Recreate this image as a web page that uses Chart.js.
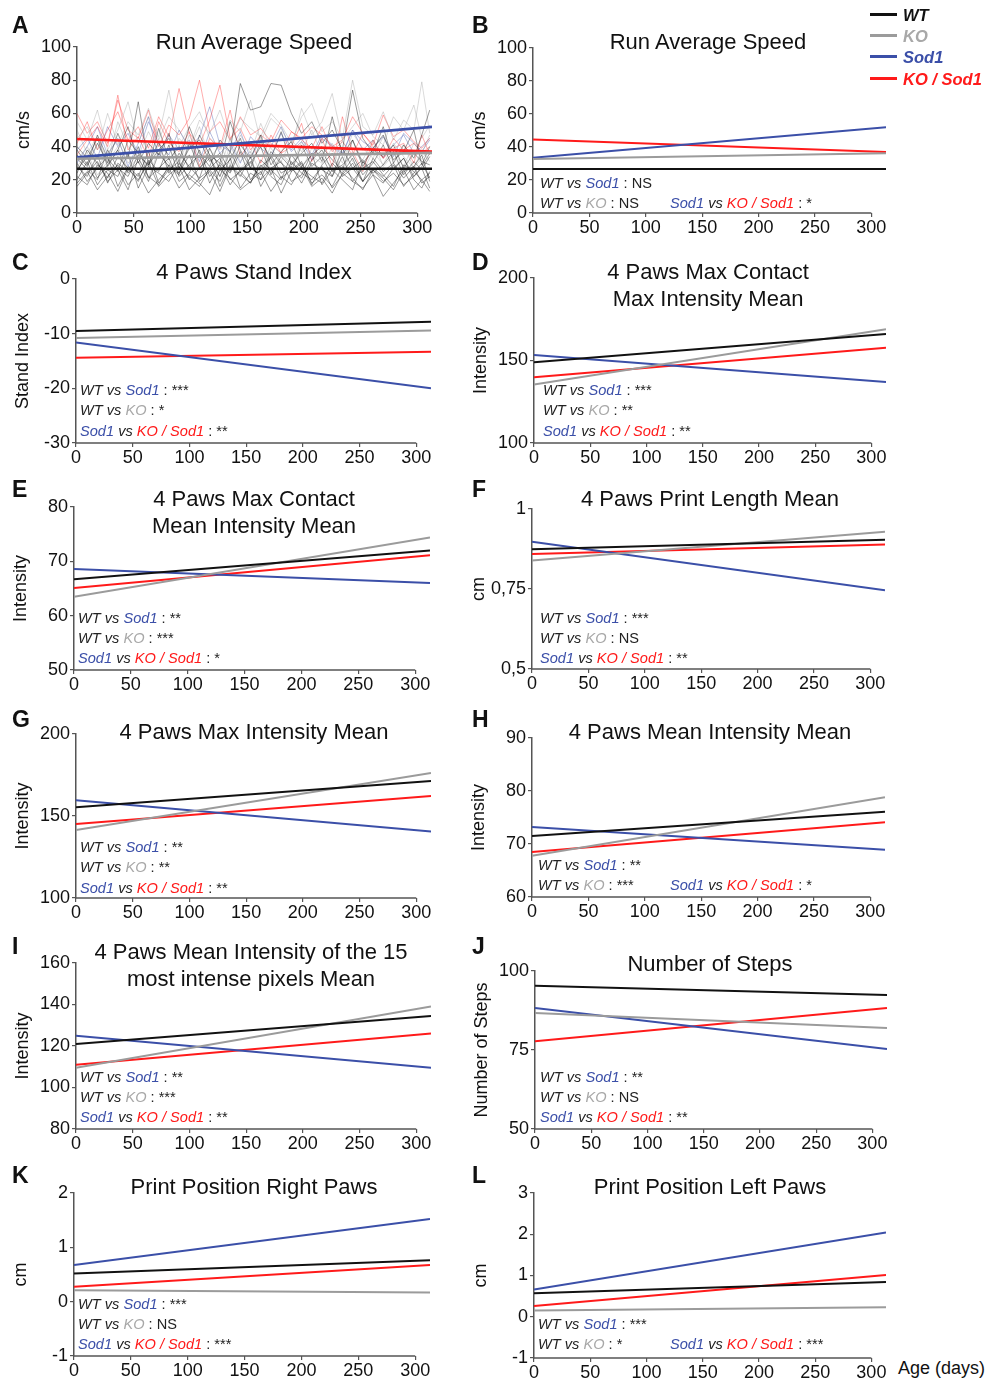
<!DOCTYPE html>
<html>
<head>
<meta charset="utf-8">
<script src="https://cdn.jsdelivr.net/npm/chart.js@4.4.1/dist/chart.umd.min.js"></script>
<style>
  body { margin: 0; background: #fff; }
  #fig { position: relative; width: 993px; height: 1380px; overflow: hidden;
         font-family: Arial, "Liberation Sans", Helvetica, sans-serif; color: #111; }
  #fig canvas { position: absolute; }
  .lbl { position: absolute; font-weight: bold; font-size: 23px; line-height: 1; }
  .ttl { position: absolute; width: 460px; text-align: center; font-size: 22px; line-height: 27px; white-space: nowrap; }
  .st { position: absolute; font-size: 14.6px; line-height: 1; white-space: nowrap; color: #222; }
  .wt { color: #222; } .ko { color: #a8a8a8; } .sod { color: #3b4fa8; } .ks { color: #ff1a1a; }
  .leg { position: absolute; left: 870px; font-weight: bold; font-style: italic; font-size: 16.5px; line-height: 1; white-space: nowrap; }
  .leg span { display: inline-block; width: 27px; height: 3px; margin-right: 6px; vertical-align: middle; position: relative; top: -2px; }
  .age { position: absolute; left: 898px; top: 1359px; font-size: 18px; line-height: 1; }
</style>
</head>
<body>
<div id="fig"></div>
<script>
// regression lines: value at day 0 and at the last day
const lineDays = [0, 313];
const dayTicks = [0, 50, 100, 150, 200, 250, 300];

const speedWT = [26.7, 26.7];
const speedKO = [32.7, 36.2];
const speedSod1 = [33.5, 51.9];
const speedKOSod1 = [44.6, 37.0];

const standWT = [-9.5, -7.8];
const standKO = [-10.8, -9.4];
const standSod1 = [-11.6, -20.0];
const standKOSod1 = [-14.4, -13.3];

const contactMaxWT = [149, 166];
const contactMaxKO = [135.5, 169];
const contactMaxSod1 = [153.3, 137];
const contactMaxKOSod1 = [139.8, 157.8];

const contactMeanWT = [66.7, 72.0];
const contactMeanKO = [63.5, 74.4];
const contactMeanSod1 = [68.6, 66.0];
const contactMeanKOSod1 = [65.1, 71.1];

const printLenWT = [0.874, 0.904];
const printLenKO = [0.839, 0.929];
const printLenSod1 = [0.898, 0.746];
const printLenKOSod1 = [0.859, 0.889];

const maxIntWT = [155.3, 171.4];
const maxIntKO = [141.5, 176.3];
const maxIntSod1 = [159.6, 140.5];
const maxIntKOSod1 = [145.1, 162.2];

const meanIntWT = [71.5, 76.1];
const meanIntKO = [67.8, 78.8];
const meanIntSod1 = [73.2, 68.9];
const meanIntKOSod1 = [68.5, 74.1];

const int15WT = [121, 134.5];
const int15KO = [109.5, 139];
const int15Sod1 = [125, 109.5];
const int15KOSod1 = [111, 126];

const stepsWT = [95.3, 92.4];
const stepsKO = [86.7, 82.0];
const stepsSod1 = [88.3, 75.3];
const stepsKOSod1 = [77.8, 88.3];

const rightPawWT = [0.52, 0.76];
const rightPawKO = [0.21, 0.17];
const rightPawSod1 = [0.675, 1.52];
const rightPawKOSod1 = [0.275, 0.675];

const leftPawWT = [0.57, 0.84];
const leftPawKO = [0.15, 0.23];
const leftPawSod1 = [0.66, 2.04];
const leftPawKOSod1 = [0.26, 1.01];

// individual animals, panel A (cm/s)
const traceDays = [0, 9, 18, 27, 36, 45, 54, 63, 72, 81, 90, 99, 108, 117, 126, 135, 144, 153, 162, 171, 180, 189, 198, 207, 216, 225, 234, 243, 252, 261, 270, 279, 288, 297, 304, 311];
const traceBlack1 = [28, 22, 35, 18, 30, 25, 40, 21, 27, 33, 19, 24, 38, 22, 29, 17, 26, 31, 20, 35, 24, 28, 18, 30, 26, 22, 34, 19, 27, 31, 23, 16, 29, 25, 20, 24];
const traceBlack2 = [20, 31, 17, 26, 22, 36, 15, 28, 24, 19, 30, 21, 16, 27, 33, 20, 25, 18, 29, 22, 17, 31, 24, 20, 28, 15, 23, 30, 19, 26, 21, 14, 25, 28, 18, 22];
const traceBlack3 = [35, 28, 42, 30, 48, 33, 67, 29, 38, 45, 31, 52, 36, 28, 44, 37, 78, 62, 64, 78, 77, 60, 48, 55, 42, 50, 38, 74, 45, 36, 52, 30, 41, 33, 47, 62];
const traceBlack4 = [18, 25, 14, 22, 29, 17, 24, 12, 20, 27, 15, 23, 18, 11, 26, 21, 14, 19, 25, 13, 22, 17, 28, 16, 21, 12, 24, 19, 15, 23, 10, 18, 26, 14, 20, 13];
const traceBlack5 = [40, 33, 45, 28, 38, 52, 30, 42, 35, 48, 27, 39, 44, 31, 36, 25, 41, 33, 47, 29, 37, 43, 28, 35, 40, 32, 26, 44, 30, 38, 34, 41, 27, 36, 31, 29];
const traceBlack6 = [24, 38, 30, 21, 34, 27, 19, 32, 25, 41, 22, 29, 35, 18, 30, 24, 37, 20, 28, 33, 21, 26, 31, 17, 29, 36, 22, 27, 19, 33, 25, 30, 21, 28, 35, 19];
const traceBlack7 = [30, 19, 27, 34, 16, 28, 22, 37, 18, 26, 31, 20, 27, 35, 16, 29, 23, 18, 32, 26, 20, 35, 27, 22, 18, 30, 24, 33, 19, 27, 22, 29, 16, 24, 30, 21];
const traceBlack8 = [22, 17, 29, 24, 13, 27, 20, 31, 16, 23, 28, 14, 21, 26, 19, 33, 15, 24, 20, 27, 12, 25, 30, 18, 23, 16, 28, 21, 14, 26, 19, 24, 17, 22, 27, 15];
const traceBlack9 = [33, 26, 20, 38, 27, 22, 35, 29, 43, 24, 36, 28, 21, 39, 26, 32, 45, 27, 23, 37, 30, 25, 41, 28, 34, 22, 39, 27, 32, 24, 29, 37, 23, 31, 26, 34];
const traceBlack10 = [16, 24, 31, 19, 26, 14, 33, 22, 17, 29, 24, 35, 19, 25, 13, 28, 22, 34, 16, 27, 31, 19, 23, 36, 17, 26, 20, 14, 31, 23, 18, 27, 33, 20, 15, 25];
const traceBlack11 = [26, 34, 21, 29, 38, 24, 31, 19, 36, 28, 23, 42, 27, 33, 22, 37, 25, 30, 40, 23, 34, 27, 21, 32, 38, 25, 29, 35, 23, 30, 41, 26, 33, 22, 28, 36];
const traceBlack12 = [38, 29, 47, 33, 25, 44, 36, 28, 51, 32, 40, 26, 47, 35, 30, 55, 38, 27, 43, 33, 49, 29, 36, 42, 31, 58, 35, 44, 28, 39, 47, 32, 37, 50, 29, 40];
const traceGray1 = [45, 52, 38, 60, 41, 55, 47, 63, 44, 58, 50, 39, 56, 48, 62, 43, 57, 51, 46, 60, 53, 42, 58, 66, 49, 55, 45, 80, 52, 47, 61, 44, 56, 50, 79, 48];
const traceGray2 = [32, 40, 28, 36, 44, 30, 38, 26, 42, 35, 29, 47, 33, 39, 27, 45, 31, 37, 24, 41, 36, 28, 43, 34, 30, 39, 25, 37, 32, 44, 28, 35, 41, 27, 33, 38];
const traceGray3 = [50, 36, 46, 31, 55, 40, 34, 49, 37, 28, 45, 38, 52, 33, 41, 29, 47, 36, 54, 39, 31, 44, 37, 50, 35, 42, 30, 48, 39, 33, 46, 37, 28, 42, 36, 47];
const traceGray4 = [55, 44, 62, 38, 50, 67, 42, 58, 46, 74, 40, 52, 61, 45, 38, 56, 49, 68, 43, 57, 51, 39, 63, 47, 55, 72, 44, 52, 60, 46, 41, 58, 50, 65, 45, 53];
const traceGray5 = [28, 36, 23, 31, 40, 26, 34, 21, 38, 30, 25, 43, 29, 35, 22, 41, 27, 33, 46, 24, 36, 30, 26, 39, 33, 28, 44, 31, 25, 37, 29, 42, 34, 27, 38, 31];
const traceRed1 = [60, 48, 55, 42, 68, 50, 45, 62, 40, 53, 47, 57, 80, 49, 55, 44, 58, 47, 51, 43, 56, 49, 45, 52, 47, 40, 44, 58, 48, 41, 59, 46, 50, 43, 39, 45];
const traceRed2 = [42, 55, 38, 50, 61, 44, 52, 39, 58, 46, 75, 48, 41, 56, 77, 45, 51, 38, 47, 42, 36, 49, 44, 39, 52, 37, 43, 35, 48, 40, 33, 45, 38, 42, 36, 40];
const traceRed3 = [35, 44, 52, 40, 71, 38, 46, 33, 55, 42, 37, 49, 28, 45, 39, 62, 34, 43, 30, 47, 36, 40, 54, 31, 45, 28, 58, 37, 25, 44, 33, 39, 42, 30, 47, 35];
const traceBlue1 = [38, 45, 33, 52, 40, 48, 36, 55, 42, 35, 50, 39, 46, 64, 41, 37, 49, 33, 44, 40, 52, 38, 45, 35, 47, 41, 36, 50, 43, 39, 46, 34, 48, 42, 37, 44];
const traceBlue2 = [30, 40, 52, 35, 45, 28, 42, 58, 33, 47, 38, 44, 31, 49, 36, 42, 30, 46, 39, 34, 48, 37, 43, 32, 45, 40, 35, 50, 38, 44, 33, 41, 47, 36, 40, 45];

const lineColors = ['#111111', '#9b9b9b', '#3b4fa8', '#ff1a1a'];
const traceGroups = [
  { list: [traceBlack1, traceBlack2, traceBlack3, traceBlack4, traceBlack5, traceBlack6, traceBlack7,
           traceBlack8, traceBlack9, traceBlack10, traceBlack11, traceBlack12], color: 'rgba(20,20,20,0.42)' },
  { list: [traceGray1, traceGray2, traceGray3, traceGray4, traceGray5], color: 'rgba(150,150,150,0.35)' },
  { list: [traceRed1, traceRed2, traceRed3], color: 'rgba(255,40,40,0.38)' },
  { list: [traceBlue1, traceBlue2], color: 'rgba(60,80,170,0.38)' }
];

const Y_W = 68, X_H = 30, PAD_T = 14, PAD_R = 8;

// stats text pieces
const WT = '<i class="wt">WT</i>', KO = '<i class="ko">KO</i>',
      SOD = '<i class="sod">Sod1</i>', KS = '<i class="ks">KO / Sod1</i>';
const cmp = (a, b, sig) => a + ' <i class="wt">vs</i> ' + b + ' : ' + sig;

const panels = [
  { letter: 'A', lx: 12, ly: 14, plot: [77, 47, 432, 213], y: [0, 100, 20], yTitle: 'cm/s',
    series: [speedWT, speedKO, speedSod1, speedKOSod1], traces: true, width: 2.6,
    title: ['Run Average Speed'], tx: 254, ty: 41, stats: [] },
  { letter: 'B', lx: 472, ly: 14, plot: [533, 48, 886, 213], y: [0, 100, 20], yTitle: 'cm/s',
    series: [speedWT, speedKO, speedSod1, speedKOSod1],
    title: ['Run Average Speed'], tx: 708, ty: 41,
    stats: [[540, 183, cmp(WT, SOD, 'NS')], [540, 203, cmp(WT, KO, 'NS')], [670, 203, cmp(SOD, KS, '*')]] },
  { letter: 'C', lx: 12, ly: 251, plot: [76, 279, 431, 443], y: [-30, 0, 10], yTitle: 'Stand Index',
    series: [standWT, standKO, standSod1, standKOSod1],
    title: ['4 Paws Stand Index'], tx: 254, ty: 271,
    stats: [[80, 390, cmp(WT, SOD, '***')], [80, 410, cmp(WT, KO, '*')], [80, 431, cmp(SOD, KS, '**')]] },
  { letter: 'D', lx: 472, ly: 251, plot: [534, 278, 886, 443], y: [100, 200, 50], yTitle: 'Intensity',
    series: [contactMaxWT, contactMaxKO, contactMaxSod1, contactMaxKOSod1],
    title: ['4 Paws Max Contact', 'Max Intensity Mean'], tx: 708, ty: 271,
    stats: [[543, 390, cmp(WT, SOD, '***')], [543, 410, cmp(WT, KO, '**')], [543, 431, cmp(SOD, KS, '**')]] },
  { letter: 'E', lx: 12, ly: 478, plot: [74, 507, 430, 670], y: [50, 80, 10], yTitle: 'Intensity',
    series: [contactMeanWT, contactMeanKO, contactMeanSod1, contactMeanKOSod1],
    title: ['4 Paws Max Contact', 'Mean Intensity Mean'], tx: 254, ty: 498,
    stats: [[78, 618, cmp(WT, SOD, '**')], [78, 638, cmp(WT, KO, '***')], [78, 658, cmp(SOD, KS, '*')]] },
  { letter: 'F', lx: 472, ly: 478, plot: [532, 509, 885, 669], y: [0.5, 1, 0.25], yTitle: 'cm', comma: true,
    series: [printLenWT, printLenKO, printLenSod1, printLenKOSod1],
    title: ['4 Paws Print Length Mean'], tx: 710, ty: 498,
    stats: [[540, 618, cmp(WT, SOD, '***')], [540, 638, cmp(WT, KO, 'NS')], [540, 658, cmp(SOD, KS, '**')]] },
  { letter: 'G', lx: 12, ly: 708, plot: [76, 734, 431, 898], y: [100, 200, 50], yTitle: 'Intensity',
    series: [maxIntWT, maxIntKO, maxIntSod1, maxIntKOSod1],
    title: ['4 Paws Max Intensity Mean'], tx: 254, ty: 731,
    stats: [[80, 847, cmp(WT, SOD, '**')], [80, 867, cmp(WT, KO, '**')], [80, 888, cmp(SOD, KS, '**')]] },
  { letter: 'H', lx: 472, ly: 708, plot: [532, 738, 885, 897], y: [60, 90, 10], yTitle: 'Intensity',
    series: [meanIntWT, meanIntKO, meanIntSod1, meanIntKOSod1],
    title: ['4 Paws Mean Intensity Mean'], tx: 710, ty: 731,
    stats: [[538, 865, cmp(WT, SOD, '**')], [538, 885, cmp(WT, KO, '***')], [670, 885, cmp(SOD, KS, '*')]] },
  { letter: 'I', lx: 12, ly: 935, plot: [76, 963, 431, 1129], y: [80, 160, 20], yTitle: 'Intensity',
    series: [int15WT, int15KO, int15Sod1, int15KOSod1],
    title: ['4 Paws Mean Intensity of the 15', 'most intense pixels Mean'], tx: 251, ty: 951,
    stats: [[80, 1077, cmp(WT, SOD, '**')], [80, 1097, cmp(WT, KO, '***')], [80, 1117, cmp(SOD, KS, '**')]] },
  { letter: 'J', lx: 472, ly: 935, plot: [535, 971, 887, 1129], y: [50, 100, 25], yTitle: 'Number of Steps',
    series: [stepsWT, stepsKO, stepsSod1, stepsKOSod1],
    title: ['Number of Steps'], tx: 710, ty: 963,
    stats: [[540, 1077, cmp(WT, SOD, '**')], [540, 1097, cmp(WT, KO, 'NS')], [540, 1117, cmp(SOD, KS, '**')]] },
  { letter: 'K', lx: 12, ly: 1164, plot: [74, 1193, 430, 1356], y: [-1, 2, 1], yTitle: 'cm',
    series: [rightPawWT, rightPawKO, rightPawSod1, rightPawKOSod1],
    title: ['Print Position Right Paws'], tx: 254, ty: 1186,
    stats: [[78, 1304, cmp(WT, SOD, '***')], [78, 1324, cmp(WT, KO, 'NS')], [78, 1344, cmp(SOD, KS, '***')]] },
  { letter: 'L', lx: 472, ly: 1164, plot: [534, 1193, 886, 1358], y: [-1, 3, 1], yTitle: 'cm',
    series: [leftPawWT, leftPawKO, leftPawSod1, leftPawKOSod1],
    title: ['Print Position Left Paws'], tx: 710, ty: 1186,
    stats: [[538, 1324, cmp(WT, SOD, '***')], [538, 1344, cmp(WT, KO, '*')], [670, 1344, cmp(SOD, KS, '***')]] }
];

// x axis line only runs to day 300, the fitted lines go a bit further
const xAxisLine = {
  id: 'xAxisLine',
  afterDraw(chart) {
    const { ctx, chartArea, scales: { x } } = chart;
    ctx.save();
    ctx.strokeStyle = '#555';
    ctx.lineWidth = 1.5;
    ctx.beginPath();
    ctx.moveTo(x.getPixelForValue(0) - 1, chartArea.bottom);
    ctx.lineTo(x.getPixelForValue(300), chartArea.bottom);
    ctx.stroke();
    ctx.restore();
  }
};

Chart.defaults.font.family = 'Arial, "Liberation Sans", Helvetica, sans-serif';
Chart.defaults.color = '#111';

const fig = document.getElementById('fig');

function addDiv(cls, left, top, html) {
  const d = document.createElement('div');
  d.className = cls;
  d.style.left = left + 'px';
  d.style.top = top + 'px';
  d.innerHTML = html;
  fig.appendChild(d);
  return d;
}

function makePanel(p) {
  const [L, T, R, B] = p.plot;
  const canvas = document.createElement('canvas');
  const w = Y_W + (R - L) + PAD_R, h = PAD_T + (B - T) + X_H;
  canvas.width = w; canvas.height = h;
  canvas.style.width = w + 'px'; canvas.style.height = h + 'px';
  canvas.style.left = (L - Y_W) + 'px';
  canvas.style.top = (T - PAD_T) + 'px';
  fig.appendChild(canvas);

  const datasets = p.series.map((vals, i) => ({
    data: lineDays.map((d, k) => ({ x: d, y: vals[k] })),
    borderColor: lineColors[i], borderWidth: p.width || 2,
    pointRadius: 0, tension: 0, fill: false
  }));
  if (p.traces) {
    traceGroups.forEach(g => g.list.forEach(vals => datasets.push({
      data: traceDays.map((d, k) => ({ x: d, y: vals[k] })),
      borderColor: g.color, borderWidth: 1, pointRadius: 0, tension: 0, fill: false
    })));
  }

  const [yMin, yMax, yStep] = p.y;
  new Chart(canvas, {
    type: 'line',
    data: { datasets },
    plugins: [xAxisLine],
    options: {
      responsive: false,
      animation: false,
      devicePixelRatio: 1,
      parsing: false,
      layout: { padding: { top: PAD_T, right: PAD_R, left: 0, bottom: 0 } },
      plugins: { legend: { display: false }, tooltip: { enabled: false } },
      scales: {
        x: {
          type: 'linear', min: 0, max: lineDays[1],
          afterBuildTicks: s => { s.ticks = dayTicks.map(v => ({ value: v })); },
          afterFit: s => { s.height = X_H; },
          grid: { display: true, drawOnChartArea: false, drawTicks: true, tickLength: 4, color: '#555', lineWidth: 1.2 },
          border: { display: false },
          ticks: { padding: 0, font: { size: 18 }, color: '#111', maxRotation: 0, autoSkip: false }
        },
        y: {
          type: 'linear', min: yMin, max: yMax,
          afterFit: s => { s.width = Y_W; },
          grid: { display: true, drawOnChartArea: false, drawTicks: true, tickLength: 4, color: '#555', lineWidth: 1.2 },
          border: { display: true, color: '#555', width: 1.5 },
          ticks: {
            stepSize: yStep, padding: 2, font: { size: 18 }, color: '#111',
            callback: v => p.comma ? String(+v.toFixed(2)).replace('.', ',') : String(+v.toFixed(2))
          },
          title: { display: true, text: p.yTitle, font: { size: 18 }, color: '#111', padding: { top: 4, bottom: 4 } }
        }
      }
    }
  });

  addDiv('lbl', p.lx, p.ly, p.letter);
  addDiv('ttl', p.tx - 230, p.ty - 13, p.title.join('<br>'));
  p.stats.forEach(([x, y, html]) => addDiv('st', x, y - 7, html));
}

panels.forEach(makePanel);

// legend, top right
const legendNames = ['WT', 'KO', 'Sod1', 'KO / Sod1'];
const legendTops = [7, 28, 49, 71];
legendNames.forEach((name, i) => {
  const d = addDiv('leg', 870, legendTops[i], '<span></span>' + name);
  d.style.color = i === 1 ? '#a8a8a8' : lineColors[i];
  d.firstChild.style.background = lineColors[i];
});

addDiv('age', 898, 1359, 'Age (days)');
</script>
</body>
</html>
